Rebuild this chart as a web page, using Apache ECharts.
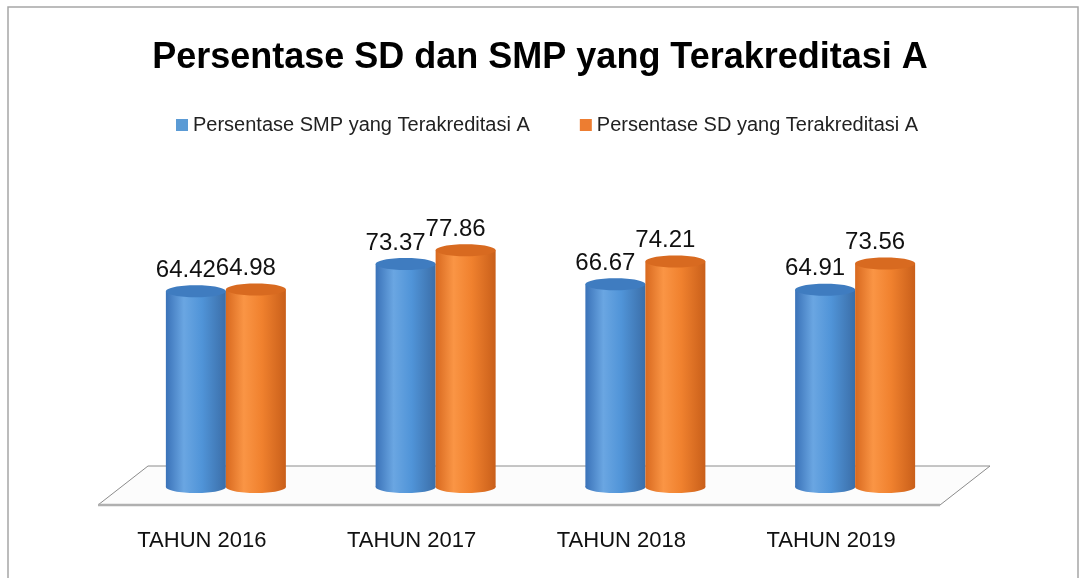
<!DOCTYPE html>
<html>
<head>
<meta charset="utf-8">
<script src="https://cdn.jsdelivr.net/npm/echarts@6/dist/echarts.min.js"></script>
<style>
  html, body { margin: 0; padding: 0; background: #fff; }
  #main { width: 1080px; height: 578px; }
</style>
</head>
<body>
<div id="main"></div>
<script>
// data
const categories = ['TAHUN 2016', 'TAHUN 2017', 'TAHUN 2018', 'TAHUN 2019']
const smpValues = [64.42, 73.37, 66.67, 64.91]
const sdValues = [64.98, 77.86, 74.21, 73.56]
const seriesNames = ['Persentase SMP yang Terakreditasi A', 'Persentase SD yang Terakreditasi A']

const chartDom = document.getElementById('main')
const myChart = echarts.init(chartDom)

// colours of the cylinders
const palettes = [
  { edge: '#3a72b8', light: '#6aa6e2', body: '#5094d8', right: '#3b6ea8', top: '#3f7cc0', legend: '#5b9bd5' },
  { edge: '#d8691f', light: '#fa9545', body: '#f0812e', right: '#c95f1a', top: '#d86a20', legend: '#ed7d31' }
]

const barW = 60
const ry = 6

function cylinder(seriesIdx) {
  const pal = palettes[seriesIdx]
  const offset = seriesIdx === 0 ? -barW / 2 : barW / 2
  return function (params, api) {
    const idx = api.value(0)
    const v = api.value(1)
    const top = api.coord([idx, v])
    const base = api.coord([idx, 0])
    const cx = top[0] + offset
    const grad = new echarts.graphic.LinearGradient(0, 0, 1, 0, [
      { offset: 0, color: pal.edge },
      { offset: 0.3, color: pal.light },
      { offset: 0.6, color: pal.body },
      { offset: 1, color: pal.right }
    ])
    return {
      type: 'group',
      children: [
        {
          type: 'ellipse',
          shape: { cx: cx, cy: base[1], rx: barW / 2, ry: ry },
          style: { fill: grad }
        },
        {
          type: 'rect',
          shape: { x: cx - barW / 2, y: top[1], width: barW, height: base[1] - top[1] },
          style: { fill: grad }
        },
        {
          type: 'ellipse',
          shape: { cx: cx, cy: top[1], rx: barW / 2, ry: ry },
          style: { fill: pal.top }
        },
        {
          type: 'text',
          x: cx - 10,
          y: top[1] - ry - 3,
          style: {
            text: v.toFixed(2),
            fill: '#111',
            font: '24px "Liberation Sans", Arial, sans-serif',
            align: 'center',
            verticalAlign: 'bottom'
          }
        }
      ]
    }
  }
}

const option = {
  backgroundColor: '#fff',
  animation: false,
  title: {
    text: 'Persentase SD dan SMP yang Terakreditasi A',
    left: 'center',
    top: 35,
    textStyle: {
      fontFamily: '"Liberation Sans", Arial, sans-serif',
      fontSize: 36,
      fontWeight: 'bold',
      color: '#000'
    }
  },
  legend: {
    left: 171,
    top: 110,
    itemWidth: 12,
    itemHeight: 12,
    itemGap: 50,
    icon: 'rect',
    textStyle: {
      fontFamily: '"Liberation Sans", Arial, sans-serif',
      fontSize: 20,
      color: '#222'
    },
    data: [
      { name: seriesNames[0], itemStyle: { color: palettes[0].legend } },
      { name: seriesNames[1], itemStyle: { color: palettes[1].legend } }
    ]
  },
  grid: { left: 121, right: 120, top: 183, bottom: 91 },
  xAxis: {
    type: 'category',
    data: categories,
    axisLine: { show: false },
    axisTick: { show: false },
    axisLabel: {
      margin: 43,
      fontFamily: '"Liberation Sans", Arial, sans-serif',
      fontSize: 22,
      color: '#111',
      padding: [0, 48, 0, 0]
    }
  },
  yAxis: {
    type: 'value',
    min: 0,
    max: 100,
    show: false,
    splitLine: { show: false }
  },
  graphic: [
    {
      type: 'rect',
      shape: { x: 8, y: 7, width: 1070, height: 600 },
      style: { fill: 'none', stroke: '#a6a6a6', lineWidth: 1.5 },
      z: 0
    },
    {
      type: 'polygon',
      shape: { points: [[148, 466], [990, 466], [940, 505], [98, 505]] },
      style: { fill: '#fcfcfc', stroke: '#8c8c8c', lineWidth: 1 },
      z: 0
    },
    {
      type: 'line',
      shape: { x1: 98, y1: 505, x2: 940, y2: 505 },
      style: { stroke: '#b0b0b0', lineWidth: 2.5 },
      z: 0
    }
  ],
  series: [
    {
      name: seriesNames[0],
      type: 'custom',
      renderItem: cylinder(0),
      itemStyle: { color: palettes[0].legend },
      data: smpValues.map((v, i) => [i, v]),
      z: 3
    },
    {
      name: seriesNames[1],
      type: 'custom',
      renderItem: cylinder(1),
      itemStyle: { color: palettes[1].legend },
      data: sdValues.map((v, i) => [i, v]),
      z: 4
    }
  ]
}

option && myChart.setOption(option)
</script>
</body>
</html>
